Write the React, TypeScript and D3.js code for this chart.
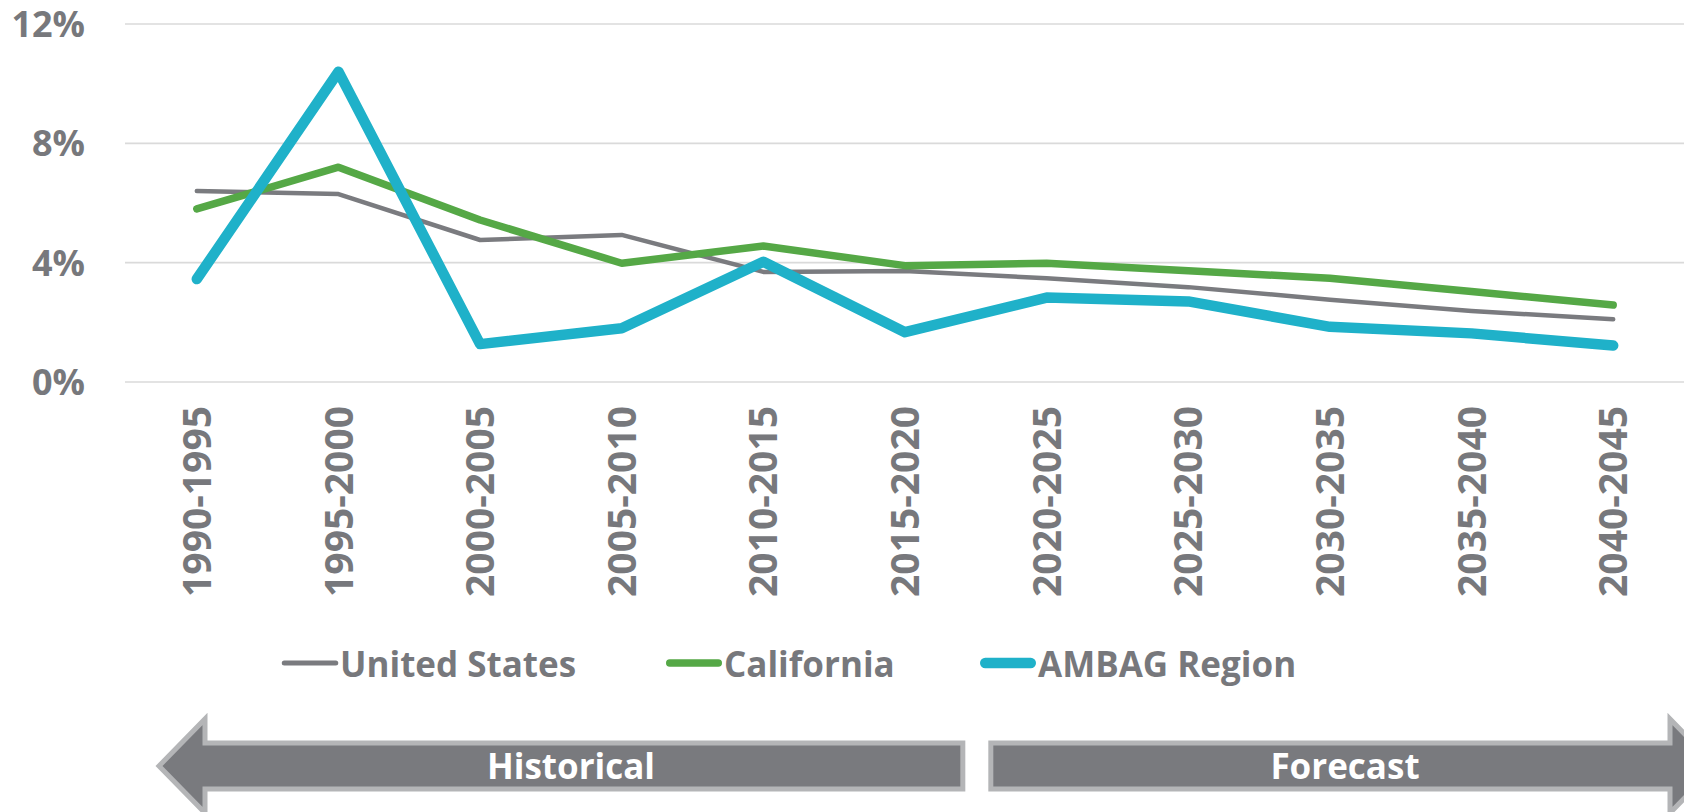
import * as d3 from "d3";
import React, {useEffect, useRef} from "react";

const periods = ['1990-1995', '1995-2000', '2000-2005', '2005-2010', '2010-2015', '2015-2020',
  '2020-2025', '2025-2030', '2030-2035', '2035-2040', '2040-2045'];
const unitedStates = [6.4, 6.3, 4.76, 4.93, 3.69, 3.72, 3.48, 3.18, 2.76, 2.38, 2.1];
const california = [5.8, 7.2, 5.43, 3.98, 4.56, 3.9, 3.98, 3.73, 3.48, 3.03, 2.58];
const ambagRegion = [3.45, 10.4, 1.27, 1.8, 4.03, 1.67, 2.83, 2.7, 1.85, 1.63, 1.22];
const yTicks = [0, 4, 8, 12];
const lastHistorical = '2015-2020';

const series = [
  {name: 'United States', values: unitedStates, color: '#7a7b7f', width: 4.5},
  {name: 'California', values: california, color: '#55a846', width: 7.5},
  {name: 'AMBAG Region', values: ambagRegion, color: '#1fb1c9', width: 10.5},
];

const W = 1684;
const H = 812;
const textColor = '#77787c';
const font = "'Open Sans', sans-serif";

const App: React.FC = () => {
  const ref = useRef<SVGSVGElement | null>(null);

  useEffect(() => {
    const svg = d3.select(ref.current);
    svg.selectAll('*').remove();

    const xScale = d3.scalePoint<string>()
      .domain(periods)
      .range([126, W])
      .padding(0.5);

    const yScale = d3.scaleLinear()
      .domain([0, 12])
      .range([382, 24]);

    // grid lines
    svg.append('g')
      .selectAll('line')
      .data(yTicks)
      .enter()
      .append('line')
      .attr('x1', 125)
      .attr('x2', W)
      .attr('y1', (d) => yScale(d))
      .attr('y2', (d) => yScale(d))
      .attr('stroke', '#dadada')
      .attr('stroke-width', 1.6);

    // y labels
    svg.append('g')
      .selectAll('text')
      .data(yTicks)
      .enter()
      .append('text')
      .attr('x', 85)
      .attr('y', (d) => yScale(d))
      .attr('dy', '0.36em')
      .attr('text-anchor', 'end')
      .attr('fill', textColor)
      .style('font-family', font)
      .style('font-weight', 700)
      .style('font-size', '36px')
      .text((d) => `${d}%`);

    // x labels
    svg.append('g')
      .selectAll('text')
      .data(periods)
      .enter()
      .append('text')
      .attr('transform', (d) => `translate(${xScale(d)}, 406) rotate(-90)`)
      .attr('dy', '0.36em')
      .attr('text-anchor', 'end')
      .attr('fill', textColor)
      .style('font-family', font)
      .style('font-weight', 700)
      .style('font-size', '39px')
      .text((d) => d);

    // lines
    const line = d3.line<number>()
      .x((_, i) => xScale(periods[i]) as number)
      .y((d) => yScale(d));

    series.forEach((s) => {
      svg.append('path')
        .datum(s.values)
        .attr('d', line)
        .attr('fill', 'none')
        .attr('stroke', s.color)
        .attr('stroke-width', s.width)
        .attr('stroke-linecap', 'round')
        .attr('stroke-linejoin', 'round');
    });

    // legend
    const legendX = [282, 666, 980];
    const legend = svg.append('g')
      .selectAll('g')
      .data(series)
      .enter()
      .append('g')
      .attr('transform', (_, i) => `translate(${legendX[i]}, 663)`);
    legend.append('line')
      .attr('x1', (d) => d.width / 2)
      .attr('x2', (d) => 56 - d.width / 2)
      .attr('stroke', (d) => d.color)
      .attr('stroke-width', (d) => Math.max(d.width, 5))
      .attr('stroke-linecap', 'round');
    legend.append('text')
      .attr('x', 58)
      .attr('y', 14)
      .attr('fill', textColor)
      .style('font-family', font)
      .style('font-weight', 700)
      .style('font-size', '35px')
      .text((d) => d.name);

    // historical / forecast arrows
    const split = ((xScale(lastHistorical) as number) + (xScale(periods[periods.indexOf(lastHistorical) + 1]) as number)) / 2;
    const top = 743, bottom = 789, mid = (top + bottom) / 2;
    const headTop = 719, headBottom = 813, headLen = 46;
    const leftEnd = split - 13;
    const rightStart = split + 15;
    const leftBase = 205;
    const rightBase = 1670;

    const leftArrow = [
      [leftEnd, top], [leftBase, top], [leftBase, headTop], [leftBase - headLen, mid],
      [leftBase, headBottom], [leftBase, bottom], [leftEnd, bottom],
    ];
    const rightArrow = [
      [rightStart, top], [rightBase, top], [rightBase, headTop], [rightBase + headLen, mid],
      [rightBase, headBottom], [rightBase, bottom], [rightStart, bottom],
    ];
    [leftArrow, rightArrow].forEach((pts) => {
      svg.append('polygon')
        .attr('points', pts.map((p) => p.join(',')).join(' '))
        .attr('fill', '#797a7e')
        .attr('stroke', '#b4b5b7')
        .attr('stroke-width', 5)
        .attr('stroke-linejoin', 'miter');
    });

    const arrowLabels = [
      {text: 'Historical', x: 571},
      {text: 'Forecast', x: 1345},
    ];
    svg.append('g')
      .selectAll('text')
      .data(arrowLabels)
      .enter()
      .append('text')
      .attr('x', (d) => d.x)
      .attr('y', mid)
      .attr('dy', '0.36em')
      .attr('text-anchor', 'middle')
      .attr('fill', '#ffffff')
      .style('font-family', font)
      .style('font-weight', 700)
      .style('font-size', '35px')
      .text((d) => d.text);

    return () => {
      svg.selectAll('*').remove();
    };
  }, []);

  return (
    <svg ref={ref} width={W} height={H}
         style={{position: 'absolute', left: 0, top: 0, background: '#ffffff'}}/>
  );
};

export default App;
